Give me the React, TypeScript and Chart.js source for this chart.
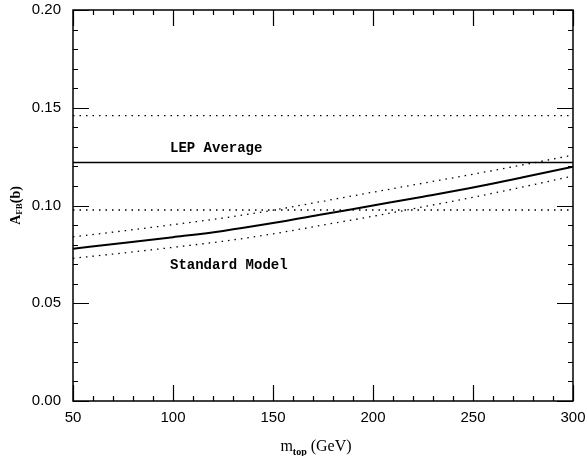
import React, { useEffect, useRef } from 'react';
import { Chart, registerables } from 'chart.js';

Chart.register(...registerables);

// ---- data ----
const massGeV = [50, 75, 100, 125, 150, 175, 200, 225, 250, 275, 300];
const smCentral = [0.0779, 0.0808, 0.0838, 0.087, 0.091, 0.0955, 0.1, 0.1045, 0.1092, 0.1145, 0.1198];
const smUpper = [0.084, 0.087, 0.0902, 0.0936, 0.0976, 0.1022, 0.1068, 0.1114, 0.116, 0.1208, 0.1258];
const smLower = [0.073, 0.0757, 0.0786, 0.0817, 0.0855, 0.09, 0.0945, 0.0993, 0.1042, 0.1095, 0.1151];

const lepMass = [50, 300];
const lepAverage = [0.122, 0.122];
const lepUpper = [0.146, 0.146];
const lepLower = [0.0977, 0.0977];

const xRange = [50, 300];
const yRange = [0, 0.2];
const xMajorStep = 50;
const xMinorStep = 10;
const yMajorStep = 0.05;
const yMinorStep = 0.01;

const annotationTexts = ['LEP Average', 'Standard Model'];
const annotationX = [98.5, 98.5];
const annotationY = [0.129, 0.0695];

const xTitleMain = 'm';
const xTitleSub = 'top';
const xTitleTail = ' (GeV)';
const yTitleMain = 'A';
const yTitleSub = 'FB';
const yTitleTail = '(b)';

const toPts = (xs: number[], ys: number[]) => xs.map((x, i) => ({ x, y: ys[i] }));

const dotted = [1.5, 5];

const decorPlugin = {
  id: 'decor',
  afterDatasetsDraw(chart: any) {
    const { ctx, chartArea: a, scales } = chart;
    const x = scales.x;
    const y = scales.y;
    ctx.save();
    ctx.strokeStyle = '#000';
    ctx.fillStyle = '#000';
    // frame
    ctx.lineWidth = 1.5;
    ctx.strokeRect(a.left, a.top, a.right - a.left, a.bottom - a.top);
    // inward ticks
    ctx.lineWidth = 1.2;
    const nx = Math.round((xRange[1] - xRange[0]) / xMinorStep);
    for (let i = 0; i <= nx; i++) {
      const v = xRange[0] + i * xMinorStep;
      const px = Math.round(x.getPixelForValue(v)) + 0.5;
      const major = i % Math.round(xMajorStep / xMinorStep) === 0;
      const len = major ? 16 : 5;
      ctx.beginPath();
      ctx.moveTo(px, a.bottom);
      ctx.lineTo(px, a.bottom - len);
      ctx.moveTo(px, a.top);
      ctx.lineTo(px, a.top + len);
      ctx.stroke();
    }
    const ny = Math.round((yRange[1] - yRange[0]) / yMinorStep);
    for (let i = 0; i <= ny; i++) {
      const v = yRange[0] + i * yMinorStep;
      const py = Math.round(y.getPixelForValue(v)) + 0.5;
      const major = i % Math.round(yMajorStep / yMinorStep) === 0;
      const len = major ? 16 : 5;
      ctx.beginPath();
      ctx.moveTo(a.left, py);
      ctx.lineTo(a.left + len, py);
      ctx.moveTo(a.right, py);
      ctx.lineTo(a.right - len, py);
      ctx.stroke();
    }
    // annotations
    ctx.font = 'bold 14px "Liberation Mono", "DejaVu Sans Mono", monospace';
    ctx.textAlign = 'left';
    ctx.textBaseline = 'middle';
    annotationTexts.forEach((t, i) => {
      ctx.fillText(t, x.getPixelForValue(annotationX[i]), y.getPixelForValue(annotationY[i]));
    });
    // x title
    const mainFont = '16px "Liberation Serif", "DejaVu Serif", serif';
    const subFont = 'bold 10px "Liberation Serif", "DejaVu Serif", serif';
    ctx.textBaseline = 'alphabetic';
    ctx.font = mainFont;
    const w1 = ctx.measureText(xTitleMain).width;
    const w3 = ctx.measureText(xTitleTail).width;
    ctx.font = subFont;
    const w2 = ctx.measureText(xTitleSub).width;
    const total = w1 + w2 + w3;
    let sx = (a.left + a.right) / 2 - 7 - total / 2;
    const base = 451;
    ctx.font = mainFont;
    ctx.fillText(xTitleMain, sx, base);
    sx += w1;
    ctx.font = subFont;
    ctx.fillText(xTitleSub, sx, base + 4);
    sx += w2;
    ctx.font = mainFont;
    ctx.fillText(xTitleTail, sx, base);
    // y title (rotated)
    const yMain = 'bold 14px "Liberation Serif", "DejaVu Serif", serif';
    const ySub = 'bold 9px "Liberation Serif", "DejaVu Serif", serif';
    ctx.save();
    ctx.translate(20, (a.top + a.bottom) / 2);
    ctx.rotate(-Math.PI / 2);
    ctx.font = yMain;
    const v1 = ctx.measureText(yTitleMain).width;
    const v3 = ctx.measureText(yTitleTail).width;
    ctx.font = ySub;
    const v2 = ctx.measureText(yTitleSub).width;
    let ty = -(v1 + v2 + v3) / 2;
    ctx.font = yMain;
    ctx.fillText(yTitleMain, ty, 0);
    ty += v1;
    ctx.font = ySub;
    ctx.fillText(yTitleSub, ty, 2);
    ty += v2;
    ctx.font = yMain;
    ctx.fillText(yTitleTail, ty, 0);
    ctx.restore();
    ctx.restore();
  },
};

const zeroPad = (s: any) => {
  s.paddingTop = 0;
  s.paddingBottom = 0;
  s.paddingLeft = 0;
  s.paddingRight = 0;
};

export default function App() {
  const ref = useRef<HTMLCanvasElement | null>(null);
  useEffect(() => {
    if (!ref.current) return;
    const tickFont = { family: '"Liberation Sans", Arial, sans-serif', size: 15 };
    const chart = new Chart(ref.current, {
      type: 'line',
      data: {
        datasets: [
          { data: toPts(lepMass, lepUpper), borderColor: '#000', borderWidth: 1.3, borderDash: dotted, pointRadius: 0 },
          { data: toPts(lepMass, lepAverage), borderColor: '#000', borderWidth: 1.5, pointRadius: 0 },
          { data: toPts(lepMass, lepLower), borderColor: '#000', borderWidth: 1.3, borderDash: dotted, pointRadius: 0 },
          { data: toPts(massGeV, smUpper), borderColor: '#000', borderWidth: 1.3, borderDash: dotted, pointRadius: 0, cubicInterpolationMode: 'monotone' },
          { data: toPts(massGeV, smCentral), borderColor: '#000', borderWidth: 2, pointRadius: 0, cubicInterpolationMode: 'monotone' },
          { data: toPts(massGeV, smLower), borderColor: '#000', borderWidth: 1.3, borderDash: dotted, pointRadius: 0, cubicInterpolationMode: 'monotone' },
        ],
      } as any,
      options: {
        animation: false,
        responsive: false,
        layout: { padding: { top: 10, right: 14, left: 0, bottom: 0 } },
        plugins: { legend: { display: false }, tooltip: { enabled: false } },
        scales: {
          x: {
            type: 'linear',
            min: xRange[0],
            max: xRange[1],
            grid: { display: false, drawTicks: false },
            border: { display: false },
            ticks: { stepSize: xMajorStep, padding: 8, font: tickFont, color: '#000', maxRotation: 0 },
            afterFit: (s: any) => { s.height = 55; zeroPad(s); },
          },
          y: {
            type: 'linear',
            min: yRange[0],
            max: yRange[1],
            grid: { display: false, drawTicks: false },
            border: { display: false },
            ticks: { stepSize: yMajorStep, padding: 12, font: tickFont, color: '#000', callback: (v: any) => Number(v).toFixed(2) },
            afterFit: (s: any) => { s.width = 73; zeroPad(s); },
          },
        },
      } as any,
      plugins: [decorPlugin],
    });
    return () => chart.destroy();
  }, []);
  return (
    <div style={{ position: 'absolute', left: 0, top: 0, width: 587, height: 456, background: '#fff' }}>
      <canvas ref={ref} width={587} height={456} style={{ display: 'block' }} />
    </div>
  );
}
